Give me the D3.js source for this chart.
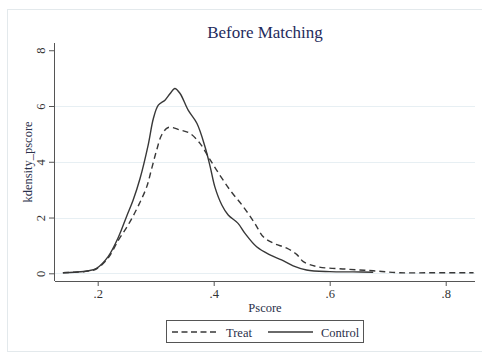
<!DOCTYPE html>
<html>
<head>
<meta charset="utf-8">
<script src="https://cdn.jsdelivr.net/npm/d3@7"></script>
<style>
  body { margin: 0; background: #fff; }
  text { font-family: "Liberation Serif", "Times New Roman", serif; }
</style>
</head>
<body>
<div id="chart"></div>
<script>
// kernel density of pscore
const pscoreControl = [0.140, 0.160, 0.184, 0.198, 0.218, 0.236, 0.250, 0.261, 0.273, 0.287, 0.296, 0.3045, 0.316, 0.325, 0.333, 0.342, 0.356, 0.371, 0.385, 0.394, 0.402, 0.414, 0.425, 0.442, 0.454, 0.474, 0.497, 0.517, 0.537, 0.560, 0.600, 0.640, 0.675];
const densityControl = [0.02, 0.04, 0.09, 0.18, 0.60, 1.31, 2.05, 2.62, 3.40, 4.60, 5.55, 6.03, 6.21, 6.45, 6.63, 6.45, 5.85, 5.38, 4.54, 3.82, 3.10, 2.45, 2.09, 1.79, 1.43, 0.95, 0.66, 0.48, 0.27, 0.12, 0.06, 0.05, 0.04];

const pscoreTreat = [0.140, 0.160, 0.184, 0.198, 0.218, 0.236, 0.250, 0.261, 0.273, 0.2845, 0.293, 0.3017, 0.3103, 0.3217, 0.342, 0.359, 0.3764, 0.3907, 0.405, 0.428, 0.451, 0.471, 0.4855, 0.503, 0.526, 0.543, 0.5545, 0.578, 0.629, 0.675, 0.721, 0.780, 0.848];
const densityTreat = [0.02, 0.04, 0.08, 0.16, 0.55, 1.20, 1.65, 2.05, 2.55, 3.10, 3.75, 4.42, 4.96, 5.23, 5.14, 5.02, 4.66, 4.18, 3.70, 2.99, 2.39, 1.79, 1.31, 1.08, 0.90, 0.68, 0.42, 0.24, 0.15, 0.09, 0.02, 0.02, 0.02];

const xTicks = [0.2, 0.4, 0.6, 0.8];
const yTicks = [0, 2, 4, 6, 8];
const gridTicks = [0, 2, 4, 6];
const seriesNames = ["Treat", "Control"];

const width = 482, height = 353;
const plot = { left: 55, right: 475, top: 43, bottom: 281 };
const lineColor = "#383838";
const axisColor = "#555";

const svg = d3.select("#chart").append("svg")
  .attr("width", width).attr("height", height);

svg.append("rect")
  .attr("x", 7.5).attr("y", 9.5)
  .attr("width", 480).attr("height", 342)
  .attr("fill", "#fff").attr("stroke", "#e3e9ec");

const xScale = d3.scaleLinear().domain([0.1264, 0.8505]).range([plot.left, plot.right]);
const yScale = d3.scaleLinear().domain([-0.276, 8.26]).range([plot.bottom, plot.top]);

// horizontal grid lines
svg.append("g").selectAll("line")
  .data(gridTicks)
  .join("line")
  .attr("x1", plot.left).attr("x2", plot.right)
  .attr("y1", d => Math.round(yScale(d)) + 0.5).attr("y2", d => Math.round(yScale(d)) + 0.5)
  .style("stroke", "#e7eff3").style("stroke-width", 1);

const fmt = d => d3.format(".1f")(d).replace(/^0/, "");

const xAxis = svg.append("g")
  .attr("transform", `translate(0,${plot.bottom})`)
  .call(d3.axisBottom(xScale).tickValues(xTicks).tickFormat(fmt).tickSize(5).tickSizeOuter(0));
xAxis.selectAll("path, line").attr("stroke", axisColor);
xAxis.selectAll("text")
  .attr("fill", "#333").style("font-size", "12.5px")
  .attr("y", 8).attr("dy", "0.71em");
xAxis.select(".domain").attr("d", `M${plot.left},0.5H${plot.right}`);

const yAxis = svg.append("g")
  .attr("transform", `translate(${plot.left},0)`)
  .call(d3.axisLeft(yScale).tickValues(yTicks).tickSize(6).tickSizeOuter(0));
yAxis.selectAll("path, line").attr("stroke", axisColor);
yAxis.selectAll("text")
  .attr("fill", "#333").style("font-size", "12.5px")
  .attr("x", null).attr("dy", null)
  .attr("text-anchor", "middle")
  .attr("dominant-baseline", "central")
  .attr("transform", "translate(-14,0) rotate(-90)");
yAxis.select(".domain").attr("d", `M-0.5,${plot.top}V${plot.bottom}`);

// titles
svg.append("text")
  .attr("x", 265).attr("y", 38)
  .attr("text-anchor", "middle")
  .attr("fill", "#1f2b5c").style("font-size", "17px")
  .text("Before Matching");

svg.append("text")
  .attr("x", 265).attr("y", 312)
  .attr("text-anchor", "middle")
  .attr("fill", "#2a2f4a").style("font-size", "12.5px")
  .text("Pscore");

svg.append("text")
  .attr("transform", `translate(31.5,${(plot.top + plot.bottom) / 2}) rotate(-90)`)
  .attr("text-anchor", "middle")
  .attr("fill", "#2a2f4a").style("font-size", "12.5px")
  .text("kdensity_pscore");

// density curves
const line = d3.line()
  .x(d => xScale(d[0]))
  .y(d => yScale(d[1]))
  .curve(d3.curveCatmullRom.alpha(0.5));

const treat = d3.zip(pscoreTreat, densityTreat);
const control = d3.zip(pscoreControl, densityControl);

svg.append("path")
  .attr("d", line(treat))
  .style("fill", "none").style("stroke", lineColor)
  .style("stroke-width", 1.4).style("stroke-dasharray", "6,4");

svg.append("path")
  .attr("d", line(control))
  .style("fill", "none").style("stroke", lineColor)
  .style("stroke-width", 1.4);

// legend
const legend = svg.append("g");
legend.append("rect")
  .attr("x", 166.5).attr("y", 320.5)
  .attr("width", 197).attr("height", 22)
  .attr("fill", "#fff").attr("stroke", axisColor);

const legendItems = [
  { name: seriesNames[0], x1: 172, x2: 218, dash: "6,3.5" },
  { name: seriesNames[1], x1: 268, x2: 313, dash: null }
];
legendItems.forEach(item => {
  legend.append("line")
    .attr("x1", item.x1).attr("x2", item.x2)
    .attr("y1", 332).attr("y2", 332)
    .style("stroke", lineColor).style("stroke-width", 1.4)
    .style("stroke-dasharray", item.dash);
  legend.append("text")
    .attr("x", item.x2 + 8).attr("y", 336.5)
    .attr("fill", "#2a2f4a").style("font-size", "12.5px")
    .text(item.name);
});
</script>
</body>
</html>
